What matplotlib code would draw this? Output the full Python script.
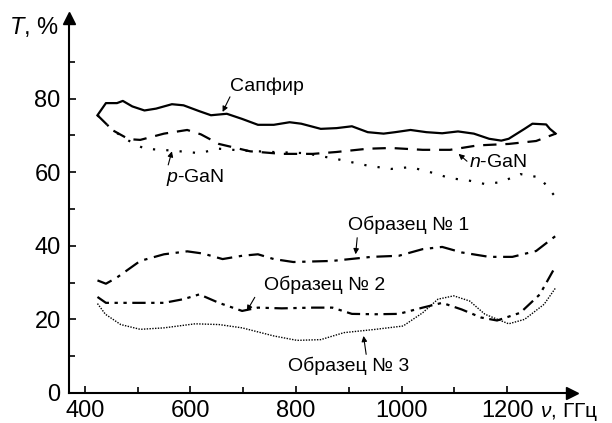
import matplotlib
matplotlib.use("Agg")
import matplotlib.pyplot as plt

plt.rcParams['font.family'] = ['Liberation Sans', 'DejaVu Sans']
plt.rcParams['mathtext.fontset'] = 'custom'
plt.rcParams['mathtext.it'] = 'Liberation Sans:italic'
plt.rcParams['mathtext.rm'] = 'Liberation Sans'

# Сапфир (solid)
sapphire_x = [424, 440, 461, 472, 490, 513, 535, 565, 587, 617, 639, 669, 698, 728, 758, 788, 810,
              847, 877, 906, 936, 966, 988, 1017, 1047, 1077, 1107, 1137, 1166, 1189, 1203, 1233,
              1248, 1274, 1281, 1292]
sapphire_y = [75.5, 78.8, 78.8, 79.4, 77.9, 76.8, 77.3, 78.5, 78.2, 76.6, 75.5, 75.9, 74.5, 72.9,
              72.9, 73.6, 73.2, 71.8, 72.0, 72.5, 70.9, 70.5, 70.9, 71.5, 70.9, 70.6, 71.1, 70.5,
              69.1, 68.6, 69.1, 71.8, 73.2, 73.0, 71.8, 70.5]

# n-GaN (dashed)
ngan_x = [424, 453, 483, 505, 550, 594, 620, 654, 713, 773, 832, 876, 936, 980, 1040, 1092, 1144,
          1203, 1255, 1292]
ngan_y = [75.5, 71.4, 69.0, 68.8, 70.5, 71.5, 70.3, 67.7, 65.7, 65.0, 65.0, 65.5, 66.4, 66.6,
          66.1, 66.1, 67.3, 67.7, 68.5, 70.5]

# p-GaN (dotted)
pgan_x = [424, 453, 483, 513, 565, 617, 654, 698, 758, 817, 877, 936, 980, 1017, 1055, 1092, 1129,
          1158, 1188, 1225, 1262, 1292]
pgan_y = [75.5, 71.4, 68.6, 66.4, 65.9, 65.2, 66.4, 65.9, 65.5, 65.2, 63.6, 61.8, 60.9, 61.4,
          60.0, 58.4, 57.7, 56.8, 57.3, 59.5, 58.6, 53.2]

# Образец № 1
s1_x = [424, 440, 461, 505, 550, 594, 624, 661, 698, 728, 758, 795, 869, 943, 995, 1040, 1077,
        1114, 1166, 1210, 1255, 1292]
s1_y = [30.6, 29.7, 31.4, 35.9, 37.7, 38.5, 37.9, 36.4, 37.3, 37.7, 36.4, 35.6, 35.9, 37.0, 37.3,
        39.1, 39.7, 38.2, 37.0, 37.0, 38.6, 42.7]

# Образец № 2
s2_x = [424, 440, 476, 550, 587, 617, 654, 698, 728, 773, 832, 869, 906, 951, 995, 1040, 1077,
        1114, 1151, 1181, 1225, 1262, 1292]
s2_y = [26.1, 24.5, 24.5, 24.5, 25.5, 26.8, 24.5, 22.3, 23.2, 23.0, 23.2, 23.2, 21.5, 21.4, 21.5,
        23.2, 24.5, 22.7, 20.5, 19.7, 21.8, 26.8, 34.5]

# Образец № 3
s3_x = [424, 439, 468, 505, 550, 609, 654, 698, 758, 802, 847, 891, 951, 1003, 1040, 1069, 1099,
        1129, 1158, 1203, 1233, 1270, 1292]
s3_y = [24.3, 21.4, 18.6, 17.3, 17.7, 18.8, 18.6, 17.7, 15.5, 14.3, 14.5, 16.4, 17.3, 18.2, 21.8,
        25.5, 26.4, 25.0, 21.4, 18.8, 20.0, 24.1, 28.6]

x_ticks = [400, 600, 800, 1000, 1200]
y_ticks = [0, 20, 40, 60, 80]

fig = plt.figure(figsize=(6.12, 4.23), dpi=100)
ax = fig.add_axes([0.1127, 0.071, 0.822, 0.887])

lw = 1.6
ax.plot(sapphire_x, sapphire_y, color='black', lw=lw)
ax.plot(ngan_x, ngan_y, color='black', lw=lw, dashes=(6, 4))
ax.plot(pgan_x, pgan_y, color='black', lw=lw, dashes=(1, 5))
ax.plot(s1_x, s1_y, color='black', lw=lw, dashes=(7, 3, 1.5, 3))
ax.plot(s2_x, s2_y, color='black', lw=lw, dashes=(6, 2.5, 1.5, 2.5, 1.5, 2.5))
ax.plot(s3_x, s3_y, color='black', lw=1.0, dashes=(1, 1))

ax.set_xlim(370, 1323)
ax.set_ylim(0, 102)
ax.spines['top'].set_visible(False)
ax.spines['right'].set_visible(False)
ax.spines['left'].set_linewidth(1.5)
ax.spines['bottom'].set_linewidth(1.5)
ax.plot(1, 0, '>k', ms=8, transform=ax.transAxes, clip_on=False)
ax.plot(0, 1, '^k', ms=8, transform=ax.transAxes, clip_on=False)

ax.set_xticks(x_ticks)
ax.set_xticks([500, 700, 900, 1100], minor=True)
ax.set_yticks(y_ticks)
ax.set_yticks([10, 30, 50, 70, 90], minor=True)
ax.tick_params(direction='in', length=5, width=1.2, labelsize=17)
ax.tick_params(axis='x', pad=5)
ax.tick_params(axis='y', pad=6)
ax.tick_params(which='minor', direction='in', length=4, width=1.2)

ax.text(-0.02, 0.975, '$\\it{T}$, %', transform=ax.transAxes, ha='right', va='center', fontsize=17)
ax.text(1263, -6.6, '$\\it{\\nu}$, ГГц', ha='left', va='baseline', fontsize=15,
        clip_on=False)

afs = 14
arrow = dict(arrowstyle='-|>', color='black', lw=0.8, mutation_scale=8, shrinkA=0, shrinkB=0)


def label(txt, xy, tail, pos):
    ax.annotate('', xy=xy, xytext=tail, arrowprops=arrow)
    ax.text(pos[0], pos[1], txt, ha='center', va='center', fontsize=afs)


label('Сапфир', (661, 76.4), (675, 80.5), (745, 83.5))
label('$\\it{p}$-GaN', (565, 65.7), (558, 62.0), (610, 58.5))
label('$\\it{n}$-GaN', (1108, 65.0), (1124, 63.0), (1183, 62.7))
label('Образец № 1', (913, 37.7), (916, 42.2), (1014, 45.7))
label('Образец № 2', (707, 22.3), (722, 26.0), (854, 29.3))
label('Образец № 3', (928, 15.5), (933, 10.5), (899, 7.5))

fig.savefig('out.png', dpi=100)
